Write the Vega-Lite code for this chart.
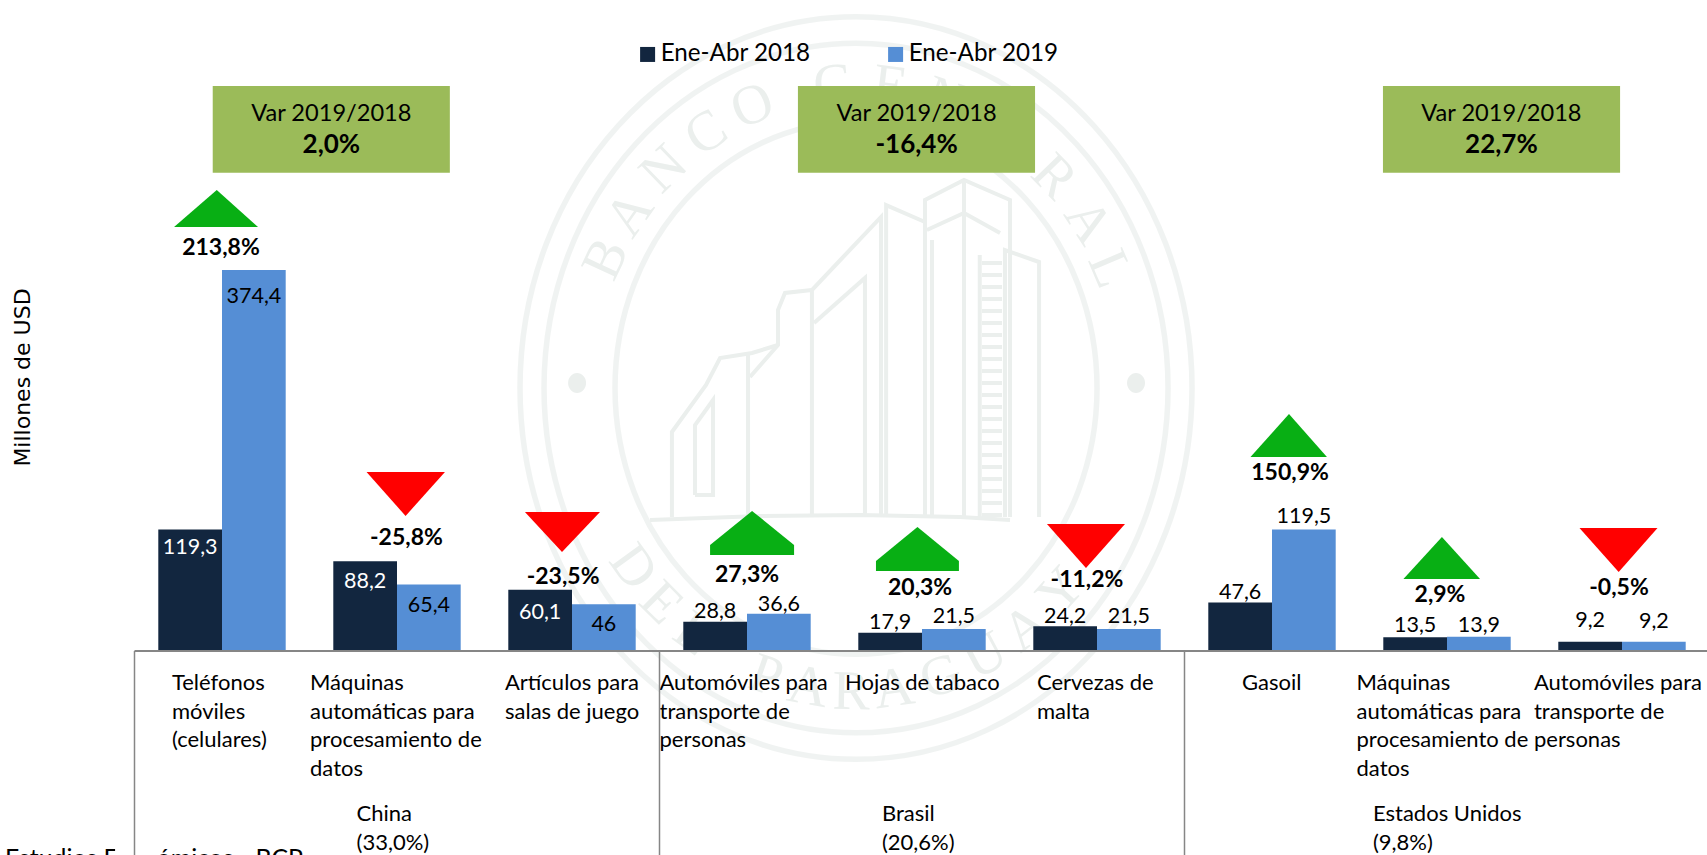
{
"$schema":"https://vega.github.io/schema/vega-lite/v6.json",
"autosize":{"type":"none"},
"padding":{"left":134.5,"top":0,"right":0,"bottom":0},
"width":1575,"height":855,"background":"white",
"view":{"stroke":null},
"datasets":{
"centro":[{"x":4.123,"y":258.4}],
"puntos":[{"x":2.529,"y":263.3},{"x":5.723,"y":263.3}],
"letras":[
{"l":"B","x":2.694,"y":385.2,"giro":-65},{"l":"A","x":2.831,"y":429.4,"giro":-55},{"l":"N","x":3.026,"y":473.6,"giro":-44},{"l":"C","x":3.266,"y":509,"giro":-33},{"l":"O","x":3.531,"y":535.5,"giro":-22},{"l":"C","x":3.986,"y":556.2,"giro":-5},{"l":"E","x":4.317,"y":555.2,"giro":7},{"l":"N","x":4.637,"y":541.4,"giro":19},{"l":"T","x":4.957,"y":511.9,"giro":32},{"l":"R","x":5.254,"y":465.8,"giro":46},{"l":"A","x":5.449,"y":421.5,"giro":57},{"l":"L","x":5.574,"y":375.4,"giro":67},
{"l":"D","x":2.849,"y":82.5,"giro":54},{"l":"E","x":3.009,"y":47.2,"giro":45},{"l":"L","x":3.197,"y":16.7,"giro":36},{"l":"P","x":3.609,"y":-24.6,"giro":19},{"l":"A","x":3.849,"y":-35.4,"giro":10},{"l":"R","x":4.095,"y":-40.3,"giro":1},{"l":"A","x":4.34,"y":-37.3,"giro":-8},{"l":"G","x":4.609,"y":-25.5,"giro":-18},{"l":"U","x":4.86,"y":-4.9,"giro":-28},{"l":"A","x":5.094,"y":22.6,"giro":-38},{"l":"Y","x":5.295,"y":59,"giro":-48}],
"edificio":[
{"t":"A","o":1,"x":4.517,"y":131.7},{"t":"A","o":2,"x":4.517,"y":443.2},{"t":"A","o":3,"x":4.74,"y":462.8},{"t":"A","o":4,"x":5.003,"y":443.2},{"t":"A","o":5,"x":5.003,"y":131.7},
{"t":"B","o":1,"x":4.74,"y":462.8},{"t":"B","o":2,"x":4.74,"y":131.7},
{"t":"C","o":1,"x":4.528,"y":413.7},{"t":"C","o":2,"x":4.74,"y":430.4},{"t":"C","o":3,"x":4.946,"y":410.7},
{"t":"D1","o":1,"x":4.266,"y":131.7},{"t":"D1","o":2,"x":4.266,"y":426.5},{"t":"D1","o":3,"x":3.871,"y":354.7},{"t":"D1","o":4,"x":3.871,"y":131.7},
{"t":"D2","o":1,"x":4.295,"y":131.7},{"t":"D2","o":2,"x":4.295,"y":438.2},{"t":"D2","o":3,"x":4.517,"y":421.5},
{"t":"E","o":1,"x":3.871,"y":354.7},{"t":"E","o":2,"x":3.717,"y":351.8},{"t":"E","o":3,"x":3.677,"y":335},{"t":"E","o":4,"x":3.677,"y":300.7},{"t":"E","o":5,"x":3.517,"y":269.2},
{"t":"F","o":1,"x":3.883,"y":322.3},{"t":"F","o":2,"x":4.174,"y":366.5},{"t":"F","o":3,"x":4.174,"y":131.7},
{"t":"G","o":1,"x":3.677,"y":300.7},{"t":"G","o":2,"x":3.529,"y":292.8},{"t":"G","o":3,"x":3.346,"y":287.9},{"t":"G","o":4,"x":3.266,"y":261.4},{"t":"G","o":5,"x":3.071,"y":215.2},{"t":"G","o":6,"x":3.071,"y":131.7},
{"t":"H","o":1,"x":3.506,"y":131.7},{"t":"H","o":2,"x":3.506,"y":292.8},
{"t":"I","o":1,"x":3.203,"y":153.3},{"t":"I","o":2,"x":3.203,"y":222},{"t":"I","o":3,"x":3.306,"y":246.6},{"t":"I","o":4,"x":3.306,"y":153.3},{"t":"I","o":5,"x":3.203,"y":153.3},
{"t":"J","o":1,"x":5.169,"y":131.7},{"t":"J","o":2,"x":5.169,"y":382.2},{"t":"J","o":3,"x":4.974,"y":394},{"t":"J","o":4,"x":4.974,"y":131.7},
{"t":"K","o":1,"x":4.557,"y":131.7},{"t":"K","o":2,"x":4.557,"y":403.8},
{"t":"M","o":1,"x":4.83,"y":131.7},{"t":"M","o":2,"x":4.83,"y":389},
{"t":"L","o":1,"x":2.946,"y":128.7},{"t":"L","o":2,"x":3.574,"y":132.7},{"t":"L","o":3,"x":4.146,"y":133.6},{"t":"L","o":4,"x":4.717,"y":131.7},{"t":"L","o":5,"x":5.003,"y":128.7}],
"escalera":[{"o":1,"x":4.9,"y":131.7},{"o":2,"x":4.9,"y":389}],
"barras":[
{"producto":"Teléfonos móviles (celulares)","serie":"Ene-Abr 2018","valor":119.3,"etiqueta":"119,3","y_et":101.2},
{"producto":"Teléfonos móviles (celulares)","serie":"Ene-Abr 2019","valor":374.4,"etiqueta":"374,4","y_et":347.8},
{"producto":"Máquinas automáticas (China)","serie":"Ene-Abr 2018","valor":88.2,"etiqueta":"88,2","y_et":67.8},
{"producto":"Máquinas automáticas (China)","serie":"Ene-Abr 2019","valor":65.4,"etiqueta":"65,4","y_et":44.2},
{"producto":"Artículos para salas de juego","serie":"Ene-Abr 2018","valor":60.1,"etiqueta":"60,1","y_et":37.3},
{"producto":"Artículos para salas de juego","serie":"Ene-Abr 2019","valor":46,"etiqueta":"46","y_et":25.5},
{"producto":"Automóviles (Brasil)","serie":"Ene-Abr 2018","valor":28.8,"etiqueta":"28,8","y_et":38.3},
{"producto":"Automóviles (Brasil)","serie":"Ene-Abr 2019","valor":36.6,"etiqueta":"36,6","y_et":45.2},
{"producto":"Hojas de tabaco","serie":"Ene-Abr 2018","valor":17.9,"etiqueta":"17,9","y_et":27.5},
{"producto":"Hojas de tabaco","serie":"Ene-Abr 2019","valor":21.5,"etiqueta":"21,5","y_et":33.4},
{"producto":"Cervezas de malta","serie":"Ene-Abr 2018","valor":24.2,"etiqueta":"24,2","y_et":33.4},
{"producto":"Cervezas de malta","serie":"Ene-Abr 2019","valor":21.5,"etiqueta":"21,5","y_et":33.4},
{"producto":"Gasoil","serie":"Ene-Abr 2018","valor":47.6,"etiqueta":"47,6","y_et":57},
{"producto":"Gasoil","serie":"Ene-Abr 2019","valor":119.5,"etiqueta":"119,5","y_et":131.7},
{"producto":"Máquinas automáticas (EE.UU.)","serie":"Ene-Abr 2018","valor":13.5,"etiqueta":"13,5","y_et":24.6},
{"producto":"Máquinas automáticas (EE.UU.)","serie":"Ene-Abr 2019","valor":13.9,"etiqueta":"13,9","y_et":24.6},
{"producto":"Automóviles (EE.UU.)","serie":"Ene-Abr 2018","valor":9.2,"etiqueta":"9,2","y_et":29.5},
{"producto":"Automóviles (EE.UU.)","serie":"Ene-Abr 2019","valor":9.2,"etiqueta":"9,2","y_et":28.5}],
"flechas_sube":[
{"id":1,"x":0.226,"y":416.6,"y2":416.6},{"id":1,"x":0.47,"y":453,"y2":416.6},{"id":1,"x":0.706,"y":416.6,"y2":416.6},
{"id":4,"x":3.289,"y":104.2,"y2":94.3},{"id":4,"x":3.529,"y":137.6,"y2":94.3},{"id":4,"x":3.769,"y":104.2,"y2":94.3},
{"id":5,"x":4.237,"y":88.4,"y2":78.6},{"id":5,"x":4.474,"y":121.8,"y2":78.6},{"id":5,"x":4.711,"y":88.4,"y2":78.6},
{"id":7,"x":6.377,"y":190.6,"y2":190.6},{"id":7,"x":6.597,"y":232.9,"y2":190.6},{"id":7,"x":6.814,"y":190.6,"y2":190.6},
{"id":8,"x":7.251,"y":70.7,"y2":70.7},{"id":8,"x":7.471,"y":112,"y2":70.7},{"id":8,"x":7.689,"y":70.7,"y2":70.7}],
"flechas_baja":[
{"id":2,"x":1.326,"y":175.9,"y2":175.9},{"id":2,"x":1.549,"y":175.9,"y2":132.7},{"id":2,"x":1.774,"y":175.9,"y2":175.9},
{"id":3,"x":2.231,"y":136.6,"y2":136.6},{"id":3,"x":2.443,"y":136.6,"y2":97.3},{"id":3,"x":2.66,"y":136.6,"y2":136.6},
{"id":6,"x":5.214,"y":124.8,"y2":124.8},{"id":6,"x":5.437,"y":124.8,"y2":81.6},{"id":6,"x":5.66,"y":124.8,"y2":124.8},
{"id":9,"x":8.257,"y":120.9,"y2":120.9},{"id":9,"x":8.481,"y":120.9,"y2":77.6},{"id":9,"x":8.703,"y":120.9,"y2":120.9}],
"variaciones":[
{"t":"213,8%","x":0.494,"y":396},{"t":"-25,8%","x":1.554,"y":111},{"t":"-23,5%","x":2.449,"y":72.7},{"t":"27,3%","x":3.5,"y":74.7},{"t":"20,3%","x":4.489,"y":61.9},{"t":"-11,2%","x":5.443,"y":69.8},{"t":"150,9%","x":6.603,"y":174.9},{"t":"2,9%","x":7.46,"y":55},{"t":"-0,5%","x":8.483,"y":61.9}],
"cajas":[
{"x":0.447,"x2":1.802,"y":555.2,"y2":470},
{"x":3.791,"x2":5.146,"y":555.2,"y2":470},
{"x":7.134,"x2":8.489,"y":555.2,"y2":470}],
"cajas_texto":[
{"x":1.125,"y":527.6,"t":"Var 2019/2018"},{"x":4.469,"y":527.6,"t":"Var 2019/2018"},{"x":7.811,"y":527.6,"t":"Var 2019/2018"}],
"cajas_total":[
{"x":1.125,"y":496.8,"t":"2,0%"},{"x":4.469,"y":496.8,"t":"-16,4%"},{"x":7.811,"y":496.8,"t":"22,7%"}],
"productos":[
{"t":"Teléfonos\nmóviles\n(celulares)","x":0.214,"y":-21.6},
{"t":"Máquinas\nautomáticas para\nprocesamiento de\ndatos","x":1.003,"y":-21.6},
{"t":"Artículos para\nsalas de juego","x":2.117,"y":-21.6},
{"t":"Automóviles para\ntransporte de\npersonas","x":3.0,"y":-21.6},
{"t":"Hojas de tabaco","x":4.06,"y":-21.6},
{"t":"Cervezas de\nmalta","x":5.157,"y":-21.6},
{"t":"Gasoil","x":6.329,"y":-21.6},
{"t":"Máquinas\nautomáticas para\nprocesamiento de\ndatos","x":6.983,"y":-21.6},
{"t":"Automóviles para\ntransporte de\npersonas","x":7.997,"y":-21.6}],
"paises":[
{"t":"China\n(33,0%)","x":1.269,"y":-150.4},
{"t":"Brasil\n(20,6%)","x":4.271,"y":-150.4},
{"t":"Estados Unidos\n(9,8%)","x":7.077,"y":-150.4}],
"separadores":[{"x":0,"y":0,"y2":-200.45},{"x":3,"y":0,"y2":-200.45},{"x":6,"y":0,"y2":-200.45}]
},
"encoding":{
"x":{"field":"x","type":"quantitative","scale":{"domain":[0,9],"nice":false,"zero":false},"axis":null},
"y":{"field":"y","type":"quantitative","scale":{"domain":[-200.45,639.68],"nice":false,"zero":false},"axis":null}
},
"layer":[
{"data":{"name":"centro"},"mark":{"type":"point","filled":false,"stroke":"#ebefed","strokeWidth":5.5,"size":451584,"shape":"M-1,0C-1,-0.61 -0.5523,-1.105 0,-1.105C0.5523,-1.105 1,-0.61 1,0C1,0.61 0.5523,1.105 0,1.105C-0.5523,1.105 -1,0.61 -1,0Z"}},
{"data":{"name":"centro"},"mark":{"type":"point","filled":false,"stroke":"#ebefed","strokeWidth":5.5,"size":389376,"shape":"M-1,0C-1,-0.61 -0.5523,-1.105 0,-1.105C0.5523,-1.105 1,-0.61 1,0C1,0.61 0.5523,1.105 0,1.105C-0.5523,1.105 -1,0.61 -1,0Z"}},
{"data":{"name":"centro"},"mark":{"type":"point","filled":false,"stroke":"#ebefed","strokeWidth":5.5,"size":232324,"shape":"M-1,0C-1,-0.61 -0.5523,-1.105 0,-1.105C0.5523,-1.105 1,-0.61 1,0C1,0.61 0.5523,1.105 0,1.105C-0.5523,1.105 -1,0.61 -1,0Z"}},
{"data":{"name":"puntos"},"mark":{"type":"point","filled":true,"fill":"#ebefed","opacity":1,"size":324,"shape":"M-1,0C-1,-0.61 -0.5523,-1.105 0,-1.105C0.5523,-1.105 1,-0.61 1,0C1,0.61 0.5523,1.105 0,1.105C-0.5523,1.105 -1,0.61 -1,0Z"}},
{"data":{"name":"letras"},"mark":{"type":"text","font":"Liberation Serif","fontSize":56,"fill":"#ebefed","align":"center","baseline":"middle"},"encoding":{"text":{"field":"l"},"angle":{"field":"giro","type":"quantitative","scale":null}}},
{"data":{"name":"edificio"},"mark":{"type":"line","stroke":"#ebefed","strokeWidth":4},"encoding":{"detail":{"field":"t"},"order":{"field":"o"}}},
{"data":{"name":"escalera"},"mark":{"type":"line","stroke":"#ebefed","strokeWidth":20,"strokeDash":[4,8]},"encoding":{"order":{"field":"o"}}},
{"data":{"name":"barras"},"mark":{"type":"bar"},"encoding":{
"x":{"field":"producto","type":"nominal","sort":null,"scale":{"paddingInner":0.272,"paddingOuter":0.136},"axis":null},
"xOffset":{"field":"serie","type":"nominal"},
"y":{"field":"valor","type":"quantitative","stack":null,"scale":{"domain":[-200.45,639.68],"nice":false,"zero":false},"axis":{"title":"Millones de USD","titleFont":"DejaVu Sans","titleFontSize":22,"titleFontWeight":"normal","titleColor":"black","titleX":-100,"titleY":377,"labels":false,"ticks":false,"domain":false,"grid":false}},
"color":{"field":"serie","type":"nominal","scale":{"domain":["Ene-Abr 2018","Ene-Abr 2019"],"range":["#12263F","#558ED5"]},"legend":{"title":null,"orient":"none","legendX":501,"legendY":42,"direction":"horizontal","symbolType":"square","symbolSize":225,"symbolStrokeWidth":0,"labelFont":"Lato","labelFontSize":24.2,"labelColor":"black","labelOffset":1,"columnPadding":72,"labelLimit":300}}
}},
{"data":{"name":"barras"},"mark":{"type":"text","font":"Lato","fontSize":21.5,"align":"center","baseline":"middle"},"encoding":{
"x":{"field":"producto","type":"nominal","sort":null,"scale":{"paddingInner":0.272,"paddingOuter":0.136},"axis":null},
"xOffset":{"field":"serie","type":"nominal"},
"y":{"field":"y_et","type":"quantitative","axis":null},
"text":{"field":"etiqueta"},
"color":{"condition":{"test":"datum.serie==='Ene-Abr 2018'&&datum.valor>60","value":"white"},"value":"black"}
}},
{"data":{"name":"flechas_sube"},"mark":{"type":"area","fill":"#08AF14"},"encoding":{"y2":{"field":"y2"},"detail":{"field":"id"}}},
{"data":{"name":"flechas_baja"},"mark":{"type":"area","fill":"#FF0000"},"encoding":{"y2":{"field":"y2"},"detail":{"field":"id"}}},
{"data":{"name":"variaciones"},"mark":{"type":"text","font":"Lato","fontSize":23,"fontWeight":"bold","fill":"black","align":"center","baseline":"middle"},"encoding":{"text":{"field":"t"}}},
{"data":{"name":"cajas"},"mark":{"type":"rect","fill":"#9BBB59"},"encoding":{"x2":{"field":"x2"},"y2":{"field":"y2"}}},
{"data":{"name":"cajas_texto"},"mark":{"type":"text","font":"Lato","fontSize":23.6,"fill":"black","align":"center","baseline":"middle"},"encoding":{"text":{"field":"t"}}},
{"data":{"name":"cajas_total"},"mark":{"type":"text","font":"Lato","fontSize":26,"fontWeight":"bold","fill":"black","align":"center","baseline":"middle"},"encoding":{"text":{"field":"t"}}},
{"data":{"name":"productos"},"mark":{"type":"text","font":"Lato","fontSize":22,"fill":"black","align":"left","baseline":"top","lineBreak":"\n","lineHeight":28.7},"encoding":{"text":{"field":"t"}}},
{"data":{"name":"paises"},"mark":{"type":"text","font":"Lato","fontSize":22,"fill":"black","align":"left","baseline":"top","lineBreak":"\n","lineHeight":28.7},"encoding":{"text":{"field":"t"}}},
{"data":{"values":[{"t":"Estudios Económicos - BCP","x":-0.74,"y":-212}]},"mark":{"type":"text","font":"Lato","fontSize":24.8,"fill":"black","align":"left","baseline":"alphabetic"},"encoding":{"text":{"field":"t"}}},
{"data":{"values":[{"x":-0.111,"x2":0.134,"y":-190,"y2":-201}]},"mark":{"type":"rect","fill":"white"},"encoding":{"x2":{"field":"x2"},"y2":{"field":"y2"}}},
{"data":{"name":"separadores"},"mark":{"type":"rule","stroke":"#868686","strokeWidth":1.5},"encoding":{"y2":{"field":"y2"}}},
{"data":{"values":[{"x":0,"x2":9,"y":0}]},"mark":{"type":"rule","stroke":"#868686","strokeWidth":2},"encoding":{"x2":{"field":"x2"}}}
],
"resolve":{"scale":{"x":"independent"},"axis":{"y":"independent"}}
}
